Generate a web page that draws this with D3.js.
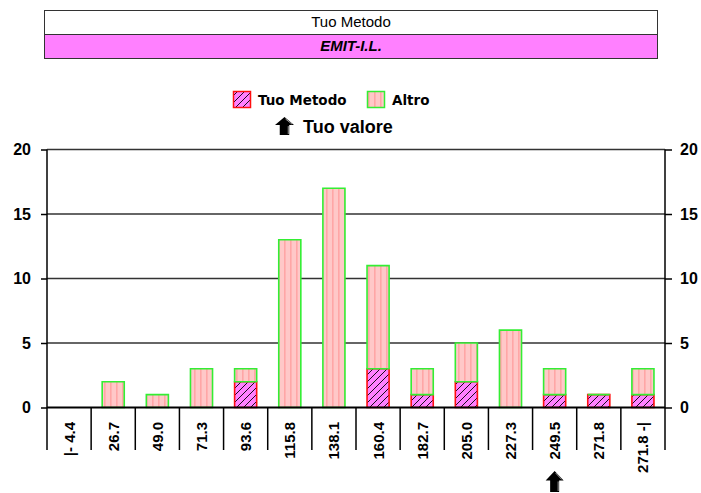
<!DOCTYPE html>
<html><head><meta charset="utf-8">
<script src="https://cdn.jsdelivr.net/npm/d3@7"></script>
<style>body{margin:0;background:#fff}svg{display:block}</style>
</head><body>
<svg id="c" width="701" height="493"></svg>
<script>
const categories = ["|- 4.4","26.7","49.0","71.3","93.6","115.8","138.1","160.4","182.7","205.0","227.3","249.5","271.8","271.8 -|"];
const tuoMetodo = [0,0,0,0,2,0,0,3,1,2,0,1,1,1];
const altro     = [0,2,1,3,1,13,17,8,2,3,6,2,0,2];
const yTicks = [0,5,10,15,20];
const userValueIndex = 11;
const headerTitle = "Tuo Metodo";
const headerSub = "EMIT-I.L.";

const svg = d3.select("#c");
const defs = svg.append("defs");
const pA = defs.append("pattern").attr("id","altro").attr("patternUnits","userSpaceOnUse").attr("width",6).attr("height",6);
pA.append("rect").attr("width",6).attr("height",6).attr("fill","#FFC8C8");
pA.append("rect").attr("x",2).attr("width",1.6).attr("height",6).attr("fill","#FFA6A6");
const pT = defs.append("pattern").attr("id","tuo").attr("patternUnits","userSpaceOnUse").attr("width",7).attr("height",7);
pT.append("rect").attr("width",7).attr("height",7).attr("fill","#FF80FF");
pT.append("path").attr("d","M-1,8 L8,-1").attr("stroke","#000").attr("stroke-width",0.9);

const font = "'Liberation Sans', Arial, sans-serif";

// header boxes
svg.append("rect").attr("x",44.5).attr("y",10.5).attr("width",613).attr("height",24).attr("fill","#fff").attr("stroke","#333");
svg.append("rect").attr("x",44.5).attr("y",34.5).attr("width",613).attr("height",24).attr("fill","#FF80FF").attr("stroke","#333");
svg.append("text").attr("x",351).attr("y",27).attr("text-anchor","middle").attr("font-family",font).attr("font-size",15).text(headerTitle);
svg.append("text").attr("x",351).attr("y",51).attr("text-anchor","middle").attr("font-family",font).attr("font-size",15).attr("font-weight","bold").attr("font-style","italic").text(headerSub);

const x0 = 47, x1 = 665, yTop = 149.5, yBot = 407.5;
const x = d3.scaleBand().domain(categories).range([x0,x1]).paddingInner(0.5).paddingOuter(0.25);
const y = d3.scaleLinear().domain([0,20]).range([yBot,yTop]);
const step = x.step();

// gridlines
svg.append("g").selectAll("line").data(yTicks.filter(d=>d>0)).join("line")
  .attr("x1",x0).attr("x2",x1).attr("y1",d=>y(d)).attr("y2",d=>y(d))
  .attr("stroke","#333").attr("stroke-width",1.5);

// axes with d3
const axL = d3.axisLeft(y).tickValues(yTicks).tickSize(6).tickPadding(10).tickFormat(d3.format("d"));
const axR = d3.axisRight(y).tickValues(yTicks).tickSize(7).tickPadding(8).tickFormat(d3.format("d"));
const gL = svg.append("g").attr("transform",`translate(${x0},0)`).call(axL);
const gR = svg.append("g").attr("transform",`translate(${x1},0)`).call(axR);
[gL,gR].forEach(g=>{
  g.select(".domain").remove();
  g.selectAll("line").attr("stroke","#000").attr("stroke-width",1.5);
  g.selectAll("text").attr("font-family",font).attr("font-size",16).attr("font-weight","bold").attr("fill","#000");
});

// bars
const data = categories.map((c,i)=>({c, t:tuoMetodo[i], a:altro[i]}));
const bw = x.bandwidth();
function seg(g, x_, y0v, y1v, fill, stroke){
  const ya = y(y1v), yb = y(y0v);
  if (yb-ya>0) g.append("rect").attr("x",x_).attr("y",ya).attr("width",bw).attr("height",yb-ya).attr("fill",fill);
  if (yb-ya>0 || y0v>0)
    g.append("path").attr("d",`M${x_},${ya}H${x_+bw}V${yb}H${x_}Z`).attr("fill","none").attr("stroke",stroke).attr("stroke-width",1.6);
}
const gb = svg.append("g");
data.forEach(d=>{
  const g = gb.append("g");
  seg(g, x(d.c), 0, d.t, "url(#tuo)", "#FF1010");
  seg(g, x(d.c), d.t, d.t+d.a, "url(#altro)", "#33EE33");
});

// axis frame
svg.append("line").attr("x1",x0).attr("x2",x1).attr("y1",yBot).attr("y2",yBot).attr("stroke","#000").attr("stroke-width",1.8);
svg.append("line").attr("x1",x0).attr("x2",x0).attr("y1",yTop).attr("y2",450).attr("stroke","#000").attr("stroke-width",1.5);
svg.append("line").attr("x1",x1).attr("x2",x1).attr("y1",yTop).attr("y2",450).attr("stroke","#000").attr("stroke-width",1.5);
svg.append("g").selectAll("line").data(categories.slice(1)).join("line")
  .attr("x1",d=>x(d)-step*0.25).attr("x2",d=>x(d)-step*0.25).attr("y1",yBot).attr("y2",450)
  .attr("stroke","#000").attr("stroke-width",1.5);

// category labels
svg.append("g").selectAll("text").data(categories).join("text")
  .attr("transform",d=>`translate(${x(d)+bw/2+5.5},422) rotate(-90)`)
  .attr("text-anchor","end").attr("font-family",font).attr("font-size",15).attr("font-weight","bold").text(d=>d);

// arrow helper
function arrow(cx, top, w, h){
  const g = svg.append("g");
  const hh = h*0.45, sw = w*0.5;
  g.append("path").attr("d",`M${cx},${top} L${cx+w/2},${top+hh} L${cx+sw/2},${top+hh} L${cx+sw/2},${top+h} L${cx-sw/2},${top+h} L${cx-sw/2},${top+hh} L${cx-w/2},${top+hh} Z`)
    .attr("fill","#000");
  g.append("path").attr("d",`M${cx+1},${top+2} L${cx+w/2-2},${top+hh-1} M${cx+sw/2-1},${top+hh+1} L${cx+sw/2-1},${top+h-1}`)
    .attr("stroke","#999").attr("stroke-width",1).attr("fill","none");
}
arrow(x(categories[userValueIndex])+bw/2, 471, 18, 21);

// legend
svg.append("rect").attr("x",233.5).attr("y",91.5).attr("width",17).attr("height",16).attr("fill","url(#tuo)").attr("stroke","#FF1010").attr("stroke-width",1.5);
svg.append("text").attr("x",258).attr("y",105).attr("font-family","'DejaVu Sans', Verdana, sans-serif").attr("font-size",13.5).attr("font-weight","bold").text("Tuo Metodo");
svg.append("rect").attr("x",367.5).attr("y",91.5).attr("width",17).attr("height",16).attr("fill","url(#altro)").attr("stroke","#33EE33").attr("stroke-width",1.5);
svg.append("text").attr("x",392).attr("y",105).attr("font-family","'DejaVu Sans', Verdana, sans-serif").attr("font-size",13.5).attr("font-weight","bold").text("Altro");
arrow(284.5, 117, 19, 18);
svg.append("text").attr("x",303).attr("y",133).attr("font-family",font).attr("font-size",18).attr("font-weight","bold").text("Tuo valore");
</script>
</body></html>
